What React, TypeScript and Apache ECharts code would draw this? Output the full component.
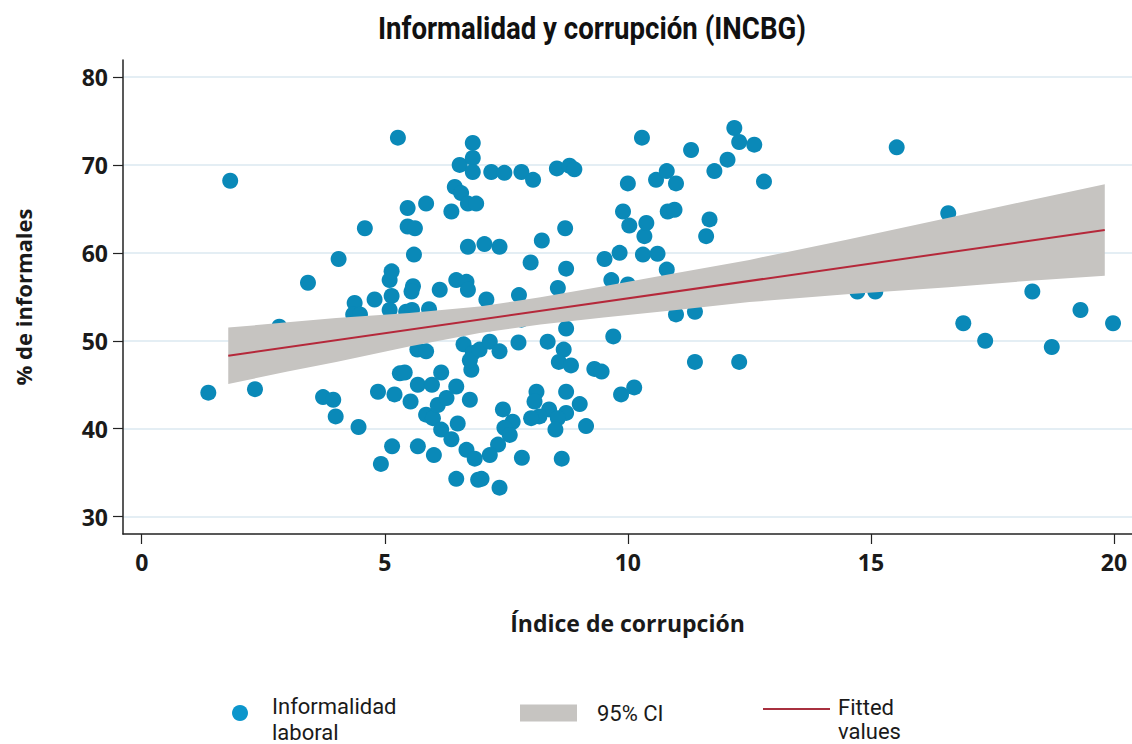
import React, { useEffect, useRef } from "react";
import * as echarts from "echarts";

const titleText = "Informalidad y corrupción (INCBG)";
const xAxisName = "Índice de corrupción";
const yAxisName = "% de informales";
const xTicks = [0, 5, 10, 15, 20];
const yTicks = [30, 40, 50, 60, 70, 80];

// Scatter: corruption index (x) and informality % (y)
const corruptionIndex = [
  1.37, 1.82, 2.33, 2.83, 3.42, 3.73, 3.94, 3.99, 4.05, 4.38, 4.35, 4.49, 4.46, 4.59, 4.79, 4.86, 4.92,
  5.10, 5.14, 5.14, 5.10, 5.15, 5.20, 5.27, 5.31, 5.41, 5.44, 5.47, 5.47, 5.62, 5.60, 5.58, 5.55, 5.56, 5.53,
  5.67, 5.85, 5.68, 5.68, 5.85, 5.85, 5.99, 5.91, 5.97, 6.01, 6.13, 6.16, 6.09, 6.27, 6.16, 6.37, 6.37, 6.47,
  6.47, 6.50, 6.47, 6.54, 6.44, 6.57, 6.71, 6.62, 6.68, 6.71, 6.71, 6.68, 6.75, 6.78, 6.81, 6.75, 6.81, 6.81,
  6.81, 6.88, 6.85, 6.92, 6.95,
  7.05, 7.36, 7.19, 7.46, 7.81, 8.05, 7.09, 7.16, 7.36, 7.16, 7.81, 7.43, 7.63, 7.46, 7.57, 7.33, 7.16, 6.99,
  7.36, 7.82, 7.75, 7.76,
  8.0, 8.23, 8.35, 8.54, 8.80, 8.90, 8.71, 8.73, 8.56, 8.73, 8.68, 8.58, 8.83, 8.73, 8.12, 8.08, 8.38, 8.18,
  8.01, 8.73, 8.56, 8.51, 8.64, 9.01, 9.14, 9.31, 9.46, 9.52, 9.66, 9.70, 9.83, 9.86, 9.90,
  10.0, 10.03, 10.0, 10.13, 10.29, 10.31, 10.34, 10.38, 10.58, 10.61, 10.80, 10.80, 10.82, 10.96, 10.99, 10.99,
  11.30, 11.38, 11.38, 11.61, 11.68, 11.78, 12.05, 12.19, 12.29, 12.29, 12.60, 12.80,
  14.72, 15.09, 15.53, 16.59, 16.90, 17.35, 18.32, 18.72, 19.31, 19.98,
];
const informality = [
  44.1, 68.2, 44.5, 51.6, 56.6, 43.6, 43.3, 41.4, 59.3, 54.3, 53.0, 53.0, 40.2, 62.8, 54.7, 44.2, 36.0,
  56.9, 57.9, 55.1, 53.5, 38.0, 43.9, 73.1, 46.3, 46.4, 53.3, 65.1, 63.0, 62.8, 59.8, 56.2, 55.6, 53.5, 43.1,
  49.0, 48.8, 45.0, 38.0, 65.6, 41.6, 41.2, 53.6, 45.0, 37.0, 55.8, 46.4, 42.7, 43.5, 39.9, 38.8, 64.7, 56.9,
  44.8, 40.6, 34.3, 70.0, 67.5, 66.8, 65.6, 49.6, 56.7, 55.8, 60.7, 37.6, 43.3, 46.7, 48.6, 47.8, 72.5, 70.8,
  69.2, 65.6, 36.6, 34.2, 49.0,
  61.0, 60.7, 69.2, 69.1, 69.2, 68.3, 54.7, 49.9, 48.8, 52.0, 52.4, 42.2, 40.8, 40.1, 39.3, 38.2, 37.0, 34.3,
  33.3, 36.7, 49.8, 55.2,
  58.9, 61.4, 49.9, 69.6, 69.9, 69.5, 62.8, 58.2, 56.0, 51.4, 49.0, 47.6, 47.2, 44.2, 44.2, 43.1, 42.2, 41.4,
  41.2, 41.8, 41.2, 39.9, 36.6, 42.8, 40.3, 46.8, 46.5, 59.3, 56.9, 50.5, 60.0, 43.9, 64.7,
  67.9, 63.1, 56.4, 44.7, 73.1, 59.8, 61.9, 63.4, 68.3, 59.9, 69.3, 58.1, 64.7, 64.9, 67.9, 53.0,
  71.7, 53.3, 47.6, 61.9, 63.8, 69.3, 70.6, 74.2, 72.6, 47.6, 72.3, 68.1,
  55.6, 55.6, 72.0, 64.5, 52.0, 50.0, 55.6, 49.3, 53.5, 52.0,
];

// 95% confidence band
const ciX = [1.78, 3, 4, 5.5, 6.95, 8.2, 9.5, 11, 12.5, 14.5, 16.6, 18.2, 19.81];
const ciLower = [45.1, 46.5, 47.6, 49.35, 50.9, 51.85, 52.65, 53.5, 54.4, 55.3, 56.1, 56.8, 57.4];
const ciUpper = [51.5, 52.1, 52.6, 53.15, 53.9, 54.95, 56.2, 57.7, 59.2, 61.5, 64.0, 65.9, 67.8];

// Fitted values
const fitX = [1.78, 19.81];
const fitY = [48.3, 62.6];

const BLUE = "#0a89b8";
const GRAY = "#c6c4c1";
const RED = "#b5283a";

export default function App() {
  const ref = useRef<HTMLDivElement>(null);

  useEffect(() => {
    document.body.style.margin = "0";
    if (!ref.current) return;
    const chart = echarts.init(ref.current, undefined, { renderer: "svg" });

    const titleFont = "bold 32px Roboto";
    let scaleX = 0.75;
    try {
      const ctx = document.createElement("canvas").getContext("2d");
      if (ctx) {
        ctx.font = titleFont;
        const w = ctx.measureText(titleText).width;
        if (w > 0) scaleX = 428 / w;
      }
    } catch (e) {}

    const scatterData = corruptionIndex.map((x, i) => [x, informality[i]]);
    const bandData = ciX.map((x, i) => [x, ciLower[i], ciUpper[i]]);
    const fitData = fitX.map((x, i) => [x, fitY[i]]);

    const txt = { fontFamily: "Roboto", fontSize: 22, color: "#1a1a1a" };

    chart.setOption({
      animation: false,
      backgroundColor: "#ffffff",
      graphic: [
        {
          type: "text",
          x: 592,
          y: 28,
          scaleX: scaleX,
          style: {
            text: titleText,
            font: titleFont,
            fill: "#111111",
            align: "center",
            verticalAlign: "middle",
          },
        },
      ],
      grid: { left: 123, right: 0, top: 60, bottom: 210, containLabel: false, outerBoundsMode: "none" },
      xAxis: {
        type: "value",
        min: -0.385,
        max: 20.37,
        name: xAxisName,
        nameLocation: "middle",
        nameGap: 77,
        nameTextStyle: { fontFamily: "Open Sans", fontWeight: "bold", fontSize: 23, color: "#1a1a1a" },
        axisLine: { show: true, onZero: false, lineStyle: { color: "#222", width: 1.5 } },
        axisTick: { show: true, length: 10, lineStyle: { color: "#222", width: 1.2 }, customValues: xTicks },
        axisLabel: {
          customValues: xTicks,
          margin: 16,
          fontFamily: "Open Sans",
          fontWeight: "bold",
          fontSize: 23,
          color: "#1a1a1a",
        },
        splitLine: { show: false },
      },
      yAxis: {
        type: "value",
        min: 28.03,
        max: 81.93,
        name: yAxisName,
        nameLocation: "middle",
        nameGap: 89,
        nameTextStyle: { fontFamily: "Open Sans", fontWeight: "bold", fontSize: 22, color: "#1a1a1a" },
        axisLine: { show: true, onZero: false, lineStyle: { color: "#222", width: 1.5 } },
        axisTick: { show: true, length: 10, lineStyle: { color: "#222", width: 1.2 }, customValues: yTicks },
        axisLabel: {
          customValues: yTicks,
          margin: 15,
          fontFamily: "Open Sans",
          fontWeight: "bold",
          fontSize: 23,
          color: "#1a1a1a",
        },
        splitLine: { show: true, lineStyle: { color: "#dbe8f0", width: 1.5 } },
      },
      legend: [
        {
          data: [{ name: "Informalidad laboral", icon: "circle", itemStyle: { color: "#0c96cc" } }],
          left: 232,
          top: 685,
          padding: 0,
          itemWidth: 16,
          itemHeight: 16,
          formatter: () => "{s| }\n{a|Informalidad}\n{a|laboral}",
          textStyle: {
            ...txt,
            rich: {
              s: { fontSize: 4, lineHeight: 12 },
              a: { ...txt, lineHeight: 26, padding: [0, 0, 0, 19] },
            },
          },
          selectedMode: false,
        },
        {
          data: [{ name: "95% CI", icon: "rect", itemStyle: { color: GRAY } }],
          left: 520,
          top: 700,
          padding: 0,
          itemWidth: 57,
          itemHeight: 17,
          textStyle: { ...txt, lineHeight: 26, padding: [0, 0, 0, 15] },
          selectedMode: false,
        },
        {
          data: [{ name: "Fitted values", icon: "rect", itemStyle: { color: "#a8303f" } }],
          left: 763,
          top: 683,
          padding: 0,
          itemWidth: 67,
          itemHeight: 2,
          formatter: () => "{s| }\n{a|Fitted}\n{a|values}",
          textStyle: {
            ...txt,
            rich: {
              s: { fontSize: 4, lineHeight: 20 },
              a: { ...txt, lineHeight: 24, padding: [0, 0, 0, 3] },
            },
          },
          selectedMode: false,
        },
      ],
      series: [
        {
          name: "Informalidad laboral",
          type: "scatter",
          data: scatterData,
          symbol: "circle",
          symbolSize: 16,
          itemStyle: { color: BLUE, opacity: 1 },
          z: 1,
        },
        {
          name: "95% CI",
          type: "custom",
          data: bandData,
          encode: { x: 0, y: [1, 2] },
          itemStyle: { color: GRAY },
          silent: true,
          z: 2,
          renderItem: (params: any, api: any) => {
            if (params.dataIndex !== 0) return null;
            const upper = ciX.map((x, i) => api.coord([x, ciUpper[i]]));
            const lower = ciX.map((x, i) => api.coord([x, ciLower[i]])).reverse();
            return {
              type: "polygon",
              shape: { points: upper.concat(lower) },
              style: { fill: GRAY, stroke: "none" },
            };
          },
        },
        {
          name: "Fitted values",
          type: "line",
          data: fitData,
          symbol: "none",
          color: RED,
          lineStyle: { color: RED, width: 2 },
          z: 3,
        },
      ],
    });

    return () => chart.dispose();
  }, []);

  return <div ref={ref} style={{ width: 1132, height: 744 }} />;
}
